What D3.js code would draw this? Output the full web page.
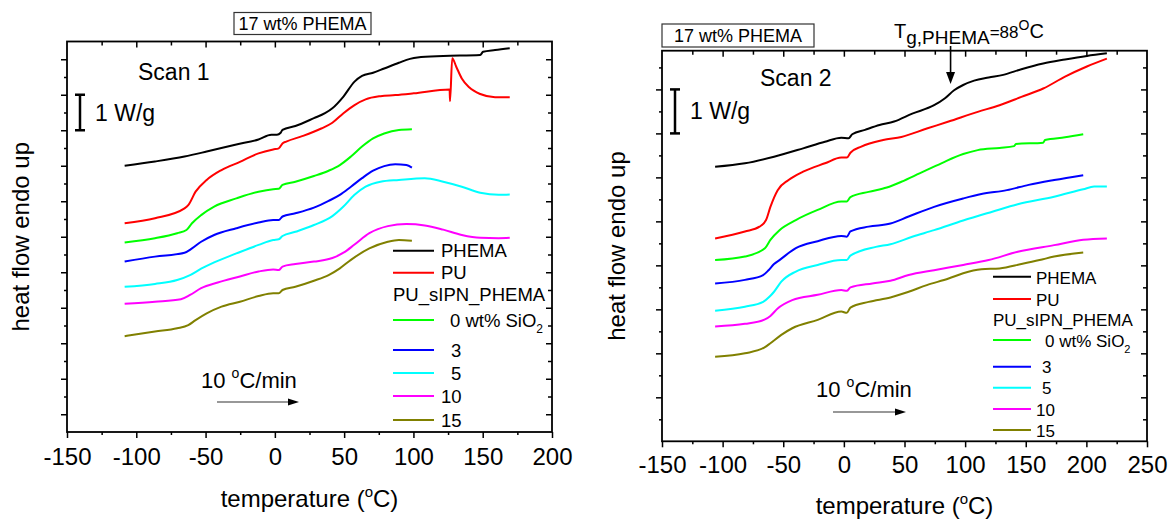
<!DOCTYPE html>
<html>
<head>
<meta charset="utf-8">
<script src="https://cdn.jsdelivr.net/npm/d3@7"></script>
<style>
  body { margin: 0; background: #fff; }
  svg { display: block; }
  text { font-family: "Liberation Sans", Arial, sans-serif; fill: #000; }
</style>
</head>
<body>
<svg id="chart" width="1169" height="520"></svg>
<script>
// DSC traces, [temperature °C, heat flow W/g (stacked offsets)]
// ---- Scan 1 ----
const scan1PHEMA = [[-108.4,7.50],[-86.5,7.62],[-65.2,7.76],[-49.2,7.90],[-27.8,8.10],[-11.8,8.24],[-2.5,8.37],[1.5,8.37],[4.2,8.43],[5.5,8.51],[14.8,8.62],[28.2,8.84],[36.2,8.98],[41.5,9.12],[49.5,9.45],[57.5,9.87],[62.9,10.03],[70.9,10.12],[78.9,10.24],[89.5,10.40],[97.5,10.51],[102.9,10.55],[121.5,10.59],[148.2,10.62],[150.3,10.71],[158.9,10.76],[169.5,10.81]];
const scan1PU = [[-108.4,5.88],[-86.5,6.02],[-65.2,6.30],[-62.5,6.39],[-57.2,6.77],[-49.2,7.10],[-38.5,7.38],[-25.2,7.61],[-11.8,7.85],[-1.2,7.96],[2.8,7.99],[5.5,8.13],[8.2,8.18],[20.2,8.34],[33.5,8.55],[41.5,8.71],[49.5,8.98],[57.5,9.21],[65.5,9.37],[76.2,9.46],[86.9,9.49],[100.2,9.54],[126.1,9.65],[126.4,9.32],[128.0,10.53],[130.9,10.29],[134.9,9.96],[140.2,9.71],[148.2,9.52],[158.9,9.43],[169.5,9.43]];
const scan1Si0 = [[-108.4,5.34],[-86.5,5.46],[-70.5,5.60],[-63.8,5.69],[-59.8,5.88],[-53.2,6.11],[-43.8,6.35],[-27.8,6.58],[-11.8,6.77],[-1.2,6.84],[2.8,6.85],[5.5,6.96],[14.8,7.05],[28.2,7.21],[38.8,7.36],[46.9,7.52],[54.9,7.76],[62.9,8.04],[70.9,8.27],[78.9,8.41],[89.5,8.51],[98.9,8.53]];
const scan1Si3 = [[-108.4,4.80],[-86.5,4.94],[-65.2,5.05],[-59.8,5.17],[-53.2,5.36],[-43.8,5.55],[-27.8,5.74],[-11.8,5.90],[-1.2,5.97],[2.8,5.97],[5.5,6.07],[14.8,6.16],[28.2,6.32],[38.8,6.51],[46.9,6.68],[54.9,6.91],[62.9,7.15],[70.9,7.36],[78.9,7.49],[86.9,7.54],[94.9,7.52],[98.9,7.45]];
const scan1Si5 = [[-108.4,4.09],[-86.5,4.17],[-70.5,4.28],[-61.2,4.42],[-53.2,4.60],[-43.8,4.78],[-27.8,5.03],[-11.8,5.27],[-1.2,5.41],[2.8,5.43],[5.5,5.52],[14.8,5.64],[28.2,5.83],[41.5,6.08],[49.5,6.35],[57.5,6.68],[65.5,6.91],[76.2,7.05],[89.5,7.10],[108.2,7.15],[121.5,7.05],[134.9,6.91],[148.2,6.74],[161.5,6.68],[169.5,6.69]];
const scan1Si10 = [[-108.4,3.61],[-86.5,3.67],[-67.8,3.74],[-61.2,3.86],[-53.2,4.05],[-41.2,4.21],[-25.2,4.38],[-11.8,4.52],[-1.2,4.58],[2.8,4.56],[5.5,4.66],[14.8,4.73],[28.2,4.80],[41.5,4.90],[49.5,5.05],[57.5,5.28],[68.2,5.60],[81.5,5.80],[94.9,5.86],[108.2,5.82],[121.5,5.70],[134.9,5.55],[148.2,5.47],[161.5,5.46],[169.5,5.47]];
const scan1Si15 = [[-108.4,2.70],[-86.5,2.83],[-70.5,2.92],[-62.5,3.01],[-57.2,3.15],[-49.2,3.34],[-38.5,3.53],[-25.2,3.67],[-11.8,3.83],[-1.2,3.91],[2.8,3.91],[5.5,4.00],[14.8,4.09],[28.2,4.26],[38.8,4.42],[46.9,4.61],[54.9,4.85],[68.2,5.17],[81.5,5.36],[89.5,5.41],[98.9,5.39]];

// ---- Scan 2 ----
const scan2PHEMA = [[-106.2,6.24],[-81.6,6.32],[-57.6,6.47],[-33.6,6.66],[-15.6,6.81],[-2.1,6.90],[3.9,6.89],[6.9,6.98],[17.4,7.08],[29.4,7.19],[41.4,7.27],[56.4,7.45],[74.4,7.64],[83.4,7.80],[90.9,7.98],[98.4,8.10],[107.4,8.20],[119.4,8.27],[131.4,8.33],[146.4,8.46],[164.4,8.59],[182.4,8.68],[200.4,8.76],[216.9,8.82]];
const scan2PU = [[-106.2,4.61],[-81.6,4.77],[-69.6,4.88],[-64.2,5.03],[-60.6,5.33],[-54.6,5.71],[-45.6,5.94],[-33.6,6.13],[-15.6,6.32],[-2.1,6.45],[2.4,6.45],[5.4,6.56],[14.4,6.70],[32.4,6.85],[47.4,6.92],[68.4,7.11],[86.4,7.27],[110.4,7.49],[128.4,7.64],[146.4,7.83],[164.4,8.02],[182.4,8.29],[200.4,8.52],[216.9,8.70]];
const scan2Si0 = [[-106.2,4.12],[-81.6,4.20],[-65.1,4.39],[-60.6,4.58],[-53.1,4.80],[-39.6,5.03],[-21.6,5.26],[-2.1,5.45],[2.4,5.45],[5.4,5.55],[20.4,5.67],[35.4,5.77],[47.4,5.90],[62.4,6.09],[80.4,6.32],[98.4,6.53],[110.4,6.62],[128.4,6.67],[140.4,6.71],[141.9,6.76],[164.4,6.79],[165.9,6.85],[182.4,6.91],[197.4,6.98]];
const scan2Si3 = [[-106.2,3.59],[-81.6,3.67],[-66.6,3.78],[-62.1,3.89],[-57.6,4.03],[-53.1,4.12],[-39.6,4.39],[-21.6,4.55],[-2.1,4.67],[2.4,4.65],[5.4,4.77],[20.4,4.88],[38.4,4.95],[53.4,5.11],[74.4,5.33],[98.4,5.52],[113.4,5.62],[134.4,5.71],[152.4,5.83],[173.4,5.94],[197.4,6.05]];
const scan2Si5 = [[-106.2,2.97],[-81.6,3.06],[-66.6,3.17],[-61.2,3.29],[-57.6,3.40],[-51.6,3.63],[-39.6,3.86],[-21.6,4.01],[-2.1,4.12],[2.4,4.12],[5.4,4.22],[26.4,4.42],[38.4,4.48],[56.4,4.65],[74.4,4.80],[98.4,5.02],[122.4,5.22],[143.4,5.39],[173.4,5.56],[197.4,5.73],[206.4,5.79],[216.9,5.79]];
const scan2Si10 = [[-106.2,2.61],[-81.6,2.67],[-65.1,2.77],[-60.6,2.85],[-54.6,3.02],[-42.6,3.21],[-21.6,3.33],[-2.1,3.44],[2.4,3.42],[5.4,3.50],[23.4,3.59],[38.4,3.65],[53.4,3.78],[74.4,3.89],[98.4,4.01],[119.4,4.12],[143.4,4.31],[173.4,4.46],[197.4,4.58],[216.9,4.61]];
const scan2Si15 = [[-106.2,1.92],[-81.6,2.00],[-65.1,2.14],[-60.6,2.23],[-51.6,2.42],[-42.6,2.57],[-21.6,2.76],[-2.1,2.95],[2.4,2.92],[5.4,3.04],[20.4,3.17],[38.4,3.27],[53.4,3.40],[68.4,3.55],[86.4,3.70],[98.4,3.82],[113.4,3.91],[128.4,3.93],[146.4,4.03],[161.4,4.12],[173.4,4.20],[197.4,4.29]];

const seriesLabels = ["PHEMA", "PU", "0 wt% SiO", "3", "5", "10", "15"];
const seriesColors = ["#000000", "#ff0000", "#00ff00", "#0000ff", "#00ffff", "#ff00ff", "#808000"];
const groupLabel = "PU_sIPN_PHEMA";
const xTicksScan1 = [-150, -100, -50, 0, 50, 100, 150, 200];
const xTicksScan2 = [-150, -100, -50, 0, 50, 100, 150, 200, 250];
const tgPHEMA = 88;

const svg = d3.select("#chart");
const FONT = '"Liberation Sans", Arial, sans-serif';

function drawPanel(p) {
  const g = svg.append("g");
  const x = d3.scaleLinear().domain(p.xDomain).range([p.left, p.right]);
  const y = d3.scaleLinear().domain(p.yDomain).range([p.bottom, p.top]);

  // curves
  const line = d3.line().x(d => x(d[0])).y(d => y(d[1])).curve(d3.curveMonotoneX);
  p.series.forEach((s, i) => {
    g.append("path").attr("d", line(s)).attr("fill", "none")
      .attr("stroke", seriesColors[i]).attr("stroke-width", 2)
      .attr("stroke-linejoin", "round");
  });

  // tick sets
  const xMajor = p.xTicks;
  const xMinor = d3.range(p.xDomain[0] + 25, p.xDomain[1], 50);
  const yMajor = p.yMajor;
  const yMinor = p.yMinor;

  const styleAxis = sel => {
    sel.select(".domain").remove();
    sel.selectAll("line").attr("stroke", "#000").attr("stroke-width", 1.5);
  };

  // bottom (outward, labelled)
  const bottomMajor = g.append("g").attr("transform", `translate(0,${p.bottom})`)
    .call(d3.axisBottom(x).tickValues(xMajor).tickSize(6).tickFormat(d => String(d)));
  styleAxis(bottomMajor);
  bottomMajor.selectAll("text").attr("y", p.tickLabelOffset).attr("dy", 0)
    .style("font-size", "24px").style("font-family", FONT).attr("fill", "#000");
  styleAxis(g.append("g").attr("transform", `translate(0,${p.bottom})`)
    .call(d3.axisBottom(x).tickValues(xMinor).tickSize(3).tickFormat("")));
  // top (inward)
  styleAxis(g.append("g").attr("transform", `translate(0,${p.top})`)
    .call(d3.axisBottom(x).tickValues(xMajor.filter(v => v > p.xDomain[0] && v < p.xDomain[1])).tickSize(6).tickFormat("")));
  styleAxis(g.append("g").attr("transform", `translate(0,${p.top})`)
    .call(d3.axisBottom(x).tickValues(xMinor).tickSize(4).tickFormat("")));
  // left (outward, unlabelled)
  styleAxis(g.append("g").attr("transform", `translate(${p.left},0)`)
    .call(d3.axisLeft(y).tickValues(yMajor).tickSize(6).tickFormat("")));
  styleAxis(g.append("g").attr("transform", `translate(${p.left},0)`)
    .call(d3.axisLeft(y).tickValues(yMinor).tickSize(3).tickFormat("")));
  // right (inward)
  styleAxis(g.append("g").attr("transform", `translate(${p.right},0)`)
    .call(d3.axisLeft(y).tickValues(yMajor).tickSize(6).tickFormat("")));
  styleAxis(g.append("g").attr("transform", `translate(${p.right},0)`)
    .call(d3.axisLeft(y).tickValues(yMinor).tickSize(4).tickFormat("")));

  // frame
  g.append("rect").attr("x", p.left).attr("y", p.top)
    .attr("width", p.right - p.left).attr("height", p.bottom - p.top)
    .attr("fill", "none").attr("stroke", "#000").attr("stroke-width", 1.8);

  // axis titles
  const xt = g.append("text").attr("x", (p.left + p.right) / 2 + p.xTitleShift).attr("y", p.xTitleY)
    .attr("text-anchor", "middle").style("font-size", "24px");
  xt.append("tspan").text("temperature (");
  xt.append("tspan").text("o").style("font-size", "15px").attr("dy", -10);
  xt.append("tspan").text("C)").attr("dy", 10);

  g.append("text").attr("transform", `translate(${p.yTitleX},${(p.top + p.bottom) / 2}) rotate(-90)`)
    .attr("text-anchor", "middle").style("font-size", "24px").text("heat flow endo up");

  // title box
  const bx = g.append("g");
  bx.append("rect").attr("x", p.box[0]).attr("y", p.box[1]).attr("width", p.box[2]).attr("height", p.box[3])
    .attr("fill", "#fff").attr("stroke", "#333").attr("stroke-width", 1.2);
  bx.append("text").attr("x", p.box[0] + p.box[2] / 2).attr("y", p.box[1] + p.box[3] - 5)
    .attr("text-anchor", "middle").style("font-size", "18px").text("17 wt% PHEMA");

  // scan label
  g.append("text").attr("x", p.scanPos[0]).attr("y", p.scanPos[1]).style("font-size", "23px").text(p.scanText);

  // 1 W/g scale bar, one unit of the heat-flow axis
  const bxp = p.barX;
  const y0 = y(p.barFrom), y1 = y(p.barFrom + 1);
  g.append("line").attr("x1", bxp).attr("x2", bxp).attr("y1", y0).attr("y2", y1)
    .attr("stroke", "#000").attr("stroke-width", 2.5);
  [y0, y1].forEach(yy => g.append("line").attr("x1", bxp - 5).attr("x2", bxp + 5)
    .attr("y1", yy).attr("y2", yy).attr("stroke", "#000").attr("stroke-width", 2.5));
  g.append("text").attr("x", bxp + 15).attr("y", (y0 + y1) / 2 + 8).style("font-size", "23px").text("1 W/g");

  // heating rate note with arrow
  const hr = g.append("text").attr("x", p.rateText[0]).attr("y", p.rateText[1]).style("font-size", "22px");
  hr.append("tspan").text("10 ");
  hr.append("tspan").text("o").style("font-size", "14px").attr("dy", -10);
  hr.append("tspan").text("C/min").attr("dy", 10);
  const [ax1, ax2, ay] = p.rateArrow;
  g.append("line").attr("x1", ax1).attr("x2", ax2 - 8).attr("y1", ay).attr("y2", ay)
    .attr("stroke", "#333").attr("stroke-width", 1.2);
  g.append("path").attr("d", `M${ax2},${ay} L${ax2 - 11},${ay - 3.5} L${ax2 - 11},${ay + 3.5} Z`).attr("fill", "#000");

  // legend
  const L = p.legend;
  const rows = L.rows;
  seriesLabels.forEach((lab, i) => {
    const r = rows[i];
    g.append("line").attr("x1", L.x1).attr("x2", L.x2).attr("y1", r.ly).attr("y2", r.ly)
      .attr("stroke", seriesColors[i]).attr("stroke-width", 2);
    const t = g.append("text").attr("x", r.tx).attr("y", r.ty).style("font-size", L.fs + "px");
    t.append("tspan").text(lab);
    if (i === 2) t.append("tspan").text("2").style("font-size", (L.fs * 0.65) + "px").attr("dy", 6);
  });
  g.append("text").attr("x", L.x1).attr("y", L.groupY).style("font-size", L.fs + "px").text(groupLabel);

  return { g, x, y };
}

// Scan 1 panel
drawPanel({
  xDomain: [-150, 200], yDomain: [0, 11],
  left: 67, right: 552, top: 41.5, bottom: 432,
  xTicks: xTicksScan1,
  yMajor: d3.range(0.5, 11, 1), yMinor: d3.range(1, 11, 1),
  tickLabelOffset: 33,
  series: [scan1PHEMA, scan1PU, scan1Si0, scan1Si3, scan1Si5, scan1Si10, scan1Si15],
  xTitleY: 507, xTitleShift: 0, yTitleX: 29,
  box: [234, 12.5, 137, 22],
  scanPos: [138, 80], scanText: "Scan 1",
  barX: 80, barFrom: 8.5,
  rateText: [201, 388], rateArrow: [217, 299, 402],
  legend: {
    x1: 393, x2: 434, fs: 18.5, groupY: 301,
    rows: [
      { ly: 250.7, tx: 441, ty: 257 },
      { ly: 272.7, tx: 441, ty: 279 },
      { ly: 320, tx: 450, ty: 327 },
      { ly: 350, tx: 451, ty: 357 },
      { ly: 373, tx: 451, ty: 379.5 },
      { ly: 396, tx: 441, ty: 402.5 },
      { ly: 420, tx: 441, ty: 427 }
    ]
  }
});

// Scan 2 panel
const p2 = drawPanel({
  xDomain: [-150, 250], yDomain: [0, 8.88],
  left: 662, right: 1147, top: 50.7, bottom: 441.3,
  xTicks: xTicksScan2,
  yMajor: d3.range(1, 8.5, 1), yMinor: d3.range(0.5, 8.8, 1),
  tickLabelOffset: 32,
  series: [scan2PHEMA, scan2PU, scan2Si0, scan2Si3, scan2Si5, scan2Si10, scan2Si15],
  xTitleY: 514, xTitleShift: 0, yTitleX: 625,
  box: [662, 24, 152, 23],
  scanPos: [760, 86], scanText: "Scan 2",
  barX: 675, barFrom: 7,
  rateText: [816, 397], rateArrow: [833, 906, 412],
  legend: {
    x1: 993, x2: 1031, fs: 17, groupY: 325.5,
    rows: [
      { ly: 276.7, tx: 1036, ty: 284 },
      { ly: 299, tx: 1036, ty: 305.5 },
      { ly: 340, tx: 1045, ty: 346.5 },
      { ly: 366.7, tx: 1042, ty: 373 },
      { ly: 387.7, tx: 1042, ty: 394 },
      { ly: 409, tx: 1036, ty: 415.5 },
      { ly: 430, tx: 1036, ty: 436.5 }
    ]
  }
});

// PHEMA glass transition marker
{
  const { g, x } = p2;
  const ax = x(tgPHEMA);
  const tg = g.append("text").attr("x", 894).attr("y", 37.5).style("font-size", "20px");
  tg.append("tspan").text("T");
  tg.append("tspan").text("g,PHEMA").style("font-size", "19px").attr("dy", 6);
  tg.append("tspan").text("=88").style("font-size", "17px").attr("dy", -6);
  tg.append("tspan").text("O").style("font-size", "14px").attr("dy", -8);
  tg.append("tspan").text("C").attr("dy", 8);
  g.append("line").attr("x1", ax).attr("x2", ax).attr("y1", 46).attr("y2", 74)
    .attr("stroke", "#000").attr("stroke-width", 1.6);
  g.append("path").attr("d", `M${ax},84 L${ax - 4.5},72 L${ax + 4.5},72 Z`).attr("fill", "#000");
}
</script>
</body>
</html>
